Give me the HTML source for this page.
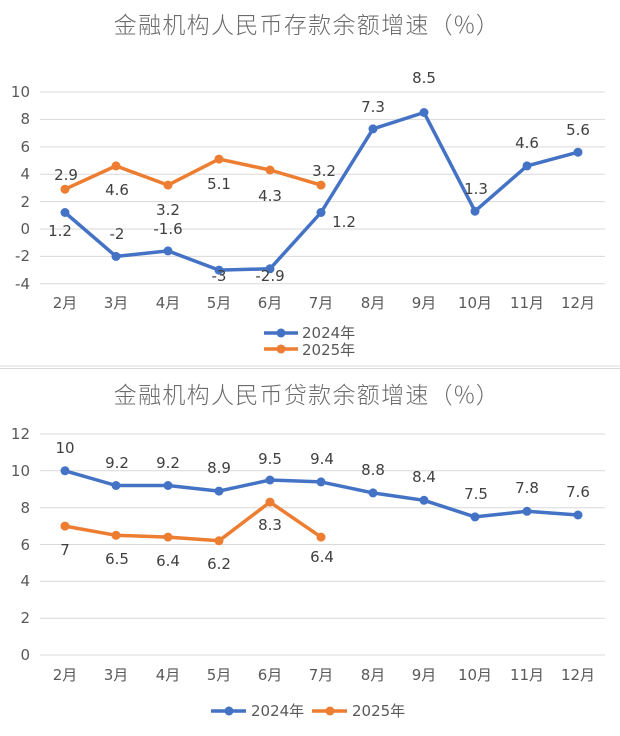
<!DOCTYPE html>
<html><head><meta charset="utf-8"><style>
body{margin:0;background:#fff;}
svg{display:block;font-family:"DejaVu Sans","Noto Sans CJK SC",sans-serif;}
</style></head><body>
<svg width="620" height="736" xmlns="http://www.w3.org/2000/svg">
<g fill="#6b6b6b" text-anchor="middle" font-family="'Noto Sans CJK SC',sans-serif" letter-spacing="1.3">
<text x="307" y="33" font-size="23" font-weight="300">金融机构人民币存款余额增速（%）</text>
<text x="307" y="403" font-size="23" font-weight="300">金融机构人民币贷款余额增速（%）</text>
</g>
<g stroke="#d9d9d9" stroke-width="1">
<line x1="40" x2="605" y1="92" y2="92"/><line x1="40" x2="605" y1="119.4" y2="119.4"/>
<line x1="40" x2="605" y1="146.9" y2="146.9"/><line x1="40" x2="605" y1="174.3" y2="174.3"/>
<line x1="40" x2="605" y1="201.6" y2="201.6"/><line x1="40" x2="605" y1="229" y2="229"/>
<line x1="40" x2="605" y1="256.4" y2="256.4"/><line x1="40" x2="605" y1="283.8" y2="283.8"/>
<line x1="0" x2="620" y1="366" y2="366"/><line x1="0" x2="620" y1="368.5" y2="368.5"/>
<line x1="40" x2="605" y1="434" y2="434"/><line x1="40" x2="605" y1="470.8" y2="470.8"/>
<line x1="40" x2="605" y1="507.7" y2="507.7"/><line x1="40" x2="605" y1="544.5" y2="544.5"/>
<line x1="40" x2="605" y1="581.3" y2="581.3"/><line x1="40" x2="605" y1="618.2" y2="618.2"/>
<line x1="40" x2="605" y1="655" y2="655"/>
</g>
<g fill="#595959" font-size="15" text-anchor="end">
<text x="30" y="97">10</text><text x="30" y="124">8</text><text x="30" y="152">6</text><text x="30" y="179">4</text>
<text x="30" y="207">2</text><text x="30" y="234">0</text><text x="30" y="261">-2</text><text x="30" y="289">-4</text>
<text x="30" y="439">12</text><text x="30" y="476">10</text><text x="30" y="513">8</text><text x="30" y="550">6</text>
<text x="30" y="586">4</text><text x="30" y="623">2</text><text x="30" y="660">0</text>
</g>
<g fill="#595959" font-size="15" text-anchor="middle">
<text x="65" y="308">2月</text><text x="116" y="308">3月</text><text x="168" y="308">4月</text><text x="219" y="308">5月</text>
<text x="270" y="308">6月</text><text x="321" y="308">7月</text><text x="373" y="308">8月</text><text x="424" y="308">9月</text>
<text x="475" y="308">10月</text><text x="527" y="308">11月</text><text x="578" y="308">12月</text>
<text x="65" y="680">2月</text><text x="116" y="680">3月</text><text x="168" y="680">4月</text><text x="219" y="680">5月</text>
<text x="270" y="680">6月</text><text x="321" y="680">7月</text><text x="373" y="680">8月</text><text x="424" y="680">9月</text>
<text x="475" y="680">10月</text><text x="527" y="680">11月</text><text x="578" y="680">12月</text>
</g>
<g fill="none" stroke-width="3.5" stroke-linejoin="round">
<polyline stroke="#4472c4" points="65,212.5 116,256.4 168,250.9 219,270.1 270,268.8 321,212.5 373,128.9 424,112.5 475,211.2 527,165.9 578,152.2"/>
<polyline stroke="#ed7d31" points="65,189.2 116,165.9 168,185.1 219,159.1 270,170.0 321,185.1"/>
<polyline stroke="#4472c4" points="65,470.8 116,485.5 168,485.5 219,491.1 270,480.0 321,481.9 373,492.9 424,500.3 475,516.9 527,511.3 578,515.0"/>
<polyline stroke="#ed7d31" points="65,526.1 116,535.3 168,537.1 219,540.8 270,502.1 321,537.1"/>
</g>
<g fill="#4472c4">
<circle cx="65" cy="212.5" r="4.5"/><circle cx="116" cy="256.4" r="4.5"/><circle cx="168" cy="250.9" r="4.5"/><circle cx="219" cy="270.1" r="4.5"/><circle cx="270" cy="268.8" r="4.5"/><circle cx="321" cy="212.5" r="4.5"/><circle cx="373" cy="128.9" r="4.5"/><circle cx="424" cy="112.5" r="4.5"/><circle cx="475" cy="211.2" r="4.5"/><circle cx="527" cy="165.9" r="4.5"/><circle cx="578" cy="152.2" r="4.5"/>
<circle cx="65" cy="470.8" r="4.5"/><circle cx="116" cy="485.5" r="4.5"/><circle cx="168" cy="485.5" r="4.5"/><circle cx="219" cy="491.1" r="4.5"/><circle cx="270" cy="480.0" r="4.5"/><circle cx="321" cy="481.9" r="4.5"/><circle cx="373" cy="492.9" r="4.5"/><circle cx="424" cy="500.3" r="4.5"/><circle cx="475" cy="516.9" r="4.5"/><circle cx="527" cy="511.3" r="4.5"/><circle cx="578" cy="515.0" r="4.5"/>
</g>
<g fill="#ed7d31">
<circle cx="65" cy="189.2" r="4.5"/><circle cx="116" cy="165.9" r="4.5"/><circle cx="168" cy="185.1" r="4.5"/><circle cx="219" cy="159.1" r="4.5"/><circle cx="270" cy="170.0" r="4.5"/><circle cx="321" cy="185.1" r="4.5"/>
<circle cx="65" cy="526.1" r="4.5"/><circle cx="116" cy="535.3" r="4.5"/><circle cx="168" cy="537.1" r="4.5"/><circle cx="219" cy="540.8" r="4.5"/><circle cx="270" cy="502.1" r="4.5"/><circle cx="321" cy="537.1" r="4.5"/>
</g>
<g fill="#404040" font-size="15" text-anchor="middle">
<text x="66" y="180">2.9</text><text x="60" y="236">1.2</text><text x="117" y="195">4.6</text><text x="117" y="239">-2</text>
<text x="168" y="215">3.2</text><text x="168" y="234">-1.6</text><text x="219" y="189">5.1</text><text x="219" y="281">-3</text>
<text x="270" y="201">4.3</text><text x="270" y="281">-2.9</text><text x="324" y="176">3.2</text><text x="344" y="227">1.2</text>
<text x="373" y="112">7.3</text><text x="424" y="83">8.5</text><text x="476" y="194">1.3</text><text x="527" y="148">4.6</text><text x="578" y="135">5.6</text>
<text x="65" y="453">10</text><text x="117" y="468">9.2</text><text x="168" y="468">9.2</text><text x="219" y="473">8.9</text>
<text x="270" y="464">9.5</text><text x="322" y="464">9.4</text><text x="373" y="475">8.8</text><text x="424" y="482">8.4</text>
<text x="476" y="499">7.5</text><text x="527" y="493">7.8</text><text x="578" y="497">7.6</text>
<text x="65" y="555">7</text><text x="117" y="564">6.5</text><text x="168" y="566">6.4</text><text x="219" y="569">6.2</text>
<text x="270" y="530">8.3</text><text x="322" y="562">6.4</text>
</g>
<g stroke-width="3.5">
<line x1="264" x2="298" y1="333" y2="333" stroke="#4472c4"/><line x1="264" x2="298" y1="349" y2="349" stroke="#ed7d31"/>
<line x1="211" x2="246" y1="711" y2="711" stroke="#4472c4"/><line x1="312" x2="347" y1="711" y2="711" stroke="#ed7d31"/>
</g>
<circle cx="281" cy="333" r="4.5" fill="#4472c4"/><circle cx="281" cy="349" r="4.5" fill="#ed7d31"/>
<circle cx="229" cy="711" r="4.5" fill="#4472c4"/><circle cx="330" cy="711" r="4.5" fill="#ed7d31"/>
<g fill="#595959" font-size="15">
<text x="302" y="338">2024年</text><text x="302" y="355">2025年</text>
<text x="251" y="716">2024年</text><text x="352" y="716">2025年</text>
</g>
</svg>
</body></html>
